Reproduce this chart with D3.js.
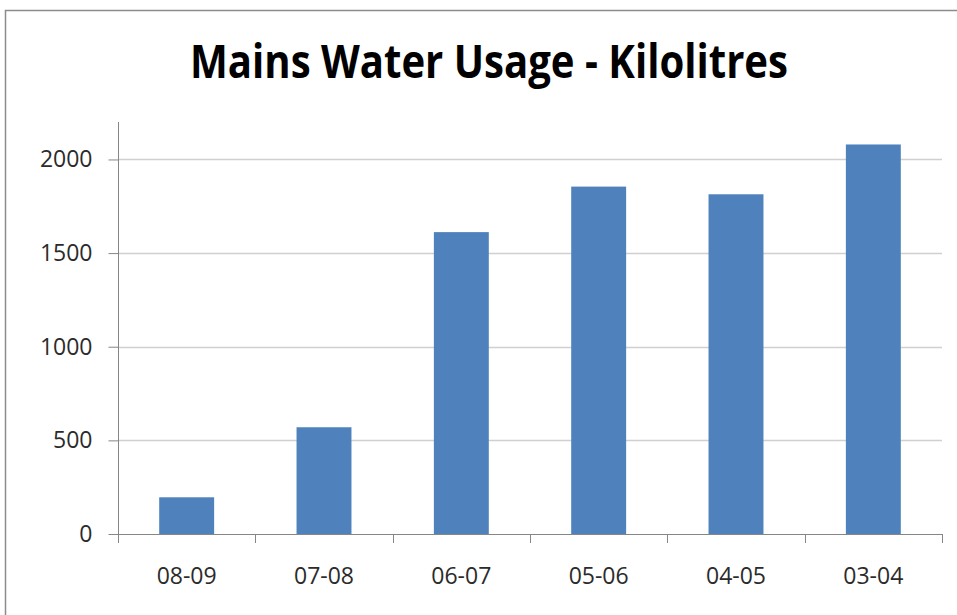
<!DOCTYPE html>
<html>
<head>
<meta charset="utf-8">
<script src="https://cdn.jsdelivr.net/npm/d3@7"></script>
<style>
html,body{margin:0;padding:0;background:#fff;}
svg{display:block;}
</style>
</head>
<body>
<script>
const categories = ["08-09","07-08","06-07","05-06","04-05","03-04"];
const usage = [196, 570, 1612, 1855, 1814, 2080];
const yTicks = [0, 500, 1000, 1500, 2000];
const yMax = 2200;
const titleText = "Mains Water Usage - Kilolitres";

(function(){
const W = 957, H = 615;
const svg = d3.select("body").append("svg").attr("width", W).attr("height", H);

// chart frame
svg.append("path")
  .attr("d", `M5.5,${H} L5.5,10.5 L${W},10.5`)
  .attr("fill","none").attr("stroke","#8c8c8c").attr("stroke-width",1.5);

const pLeft = 118, pRight = 942, pTop = 122, pBottom = 534;
const labelFont = "'Open Sans', 'Liberation Sans', sans-serif";

const x = d3.scaleBand().domain(categories).range([pLeft, pRight]).paddingInner(0.6).paddingOuter(0.3);
const y = d3.scaleLinear().domain([0, yMax]).range([pBottom, pTop]);

// gridlines
svg.append("g").selectAll("line").data(yTicks.filter(d=>d>0)).join("line")
  .attr("x1", pLeft).attr("x2", pRight)
  .attr("y1", d=>Math.round(y(d))+0.5).attr("y2", d=>Math.round(y(d))+0.5)
  .attr("stroke","#d0d0d0").attr("stroke-width",1.5);

// bars
svg.append("g").selectAll("rect").data(usage).join("rect")
  .attr("x",(d,i)=>x(categories[i]))
  .attr("width", x.bandwidth())
  .attr("y", d=>y(d))
  .attr("height", d=>y(0)-y(d))
  .attr("fill","#4f81bd");

// y axis
const yAxis = d3.axisLeft(y).tickValues(yTicks).tickSize(10).tickPadding(16).tickFormat(d3.format("d"));
const gy = svg.append("g").attr("transform",`translate(${pLeft+0.5},0)`).call(yAxis);
gy.select(".domain").attr("stroke","#868686").attr("d",`M0,${pTop}V${pBottom+9}`);
gy.selectAll(".tick line").attr("stroke","#868686");
gy.selectAll(".tick text").attr("fill","#2b2b2b").style("font-family",labelFont).style("font-size","23px");

// x axis
const bounds = d3.range(categories.length+1).map(i=> pLeft + i*(pRight-pLeft)/categories.length);
const gx = svg.append("g");
gx.append("line").attr("x1",pLeft).attr("x2",pRight).attr("y1",pBottom+0.5).attr("y2",pBottom+0.5).attr("stroke","#868686");
gx.selectAll("line.tk").data(bounds).join("line").attr("class","tk")
  .attr("x1",d=>Math.round(d)+0.5).attr("x2",d=>Math.round(d)+0.5)
  .attr("y1",pBottom).attr("y2",pBottom+9).attr("stroke","#868686");
gx.selectAll("text.lbl").data(categories).join("text").attr("class","lbl")
  .attr("x",d=>x(d)+x.bandwidth()/2).attr("y",584)
  .attr("text-anchor","middle").attr("fill","#2b2b2b")
  .style("font-family",labelFont).style("font-size","23px")
  .text(d=>d);

// title
svg.append("text").attr("x",489).attr("y",78).attr("text-anchor","middle")
  .attr("textLength",598).attr("lengthAdjust","spacingAndGlyphs")
  .style("font-family",labelFont).style("font-weight","bold").style("font-size","47px")
  .attr("fill","#000")
  .text(titleText);
})();
</script>
</body>
</html>
